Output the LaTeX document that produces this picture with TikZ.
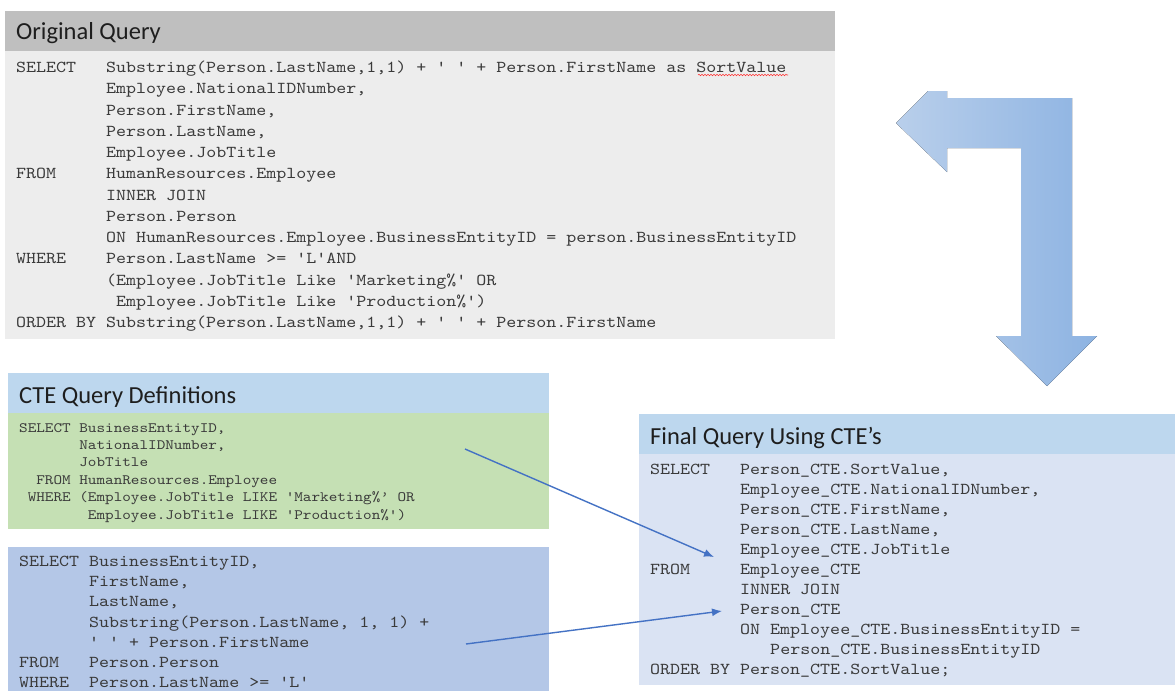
\documentclass[tikz,border=0pt]{standalone}
\usepackage{fontspec}
\setmainfont{Carlito}
% slab-serif typewriter face, widened to 0.6em per character
\setmonofont{lmmono10-regular.otf}[FakeStretch=1.143]
\usetikzlibrary{arrows.meta,decorations.pathmorphing}

\definecolor{headgray}{HTML}{BFBFBF}
\definecolor{bodygray}{HTML}{EDEDED}
\definecolor{headblue}{HTML}{BDD7EE}
\definecolor{cteGreen}{HTML}{C5E0B4}
\definecolor{cteBlue}{HTML}{B4C7E7}
\definecolor{finalBody}{HTML}{DAE3F3}
\definecolor{linkblue}{HTML}{4472C4}
\definecolor{bendL}{HTML}{B9CFEB}
\definecolor{bendR}{HTML}{8DB3E2}
\definecolor{codegray}{HTML}{3A3A3A}
\definecolor{titleink}{HTML}{1E1E1E}

% one node per code line: prefix, x, first baseline, line skip, style, lines
\newcommand\codelines[6]{%
  \foreach \ln [count=\k] in {#6}
    {\node[#5] (#1\k) at (#2, {#3 + (\k-1)*#4}) {\ln};}%
}

\begin{document}
\begin{tikzpicture}[x=1pt, y=-1pt,
  heading/.style={anchor=base west, inner sep=0pt, text=titleink,
    font=\fontsize{24.5}{29}\selectfont},
  codebig/.style={anchor=base west, inner sep=0pt, text=codegray,
    font=\fontsize{16.67}{20}\selectfont\ttfamily},
  codesmall/.style={anchor=base west, inner sep=0pt, text=codegray,
    font=\fontsize{14.33}{17}\selectfont\ttfamily},
  link/.style={draw=linkblue, line width=1.4pt,
    -{Latex[length=10pt,width=8pt]}},
  spell/.style={draw=red!80!white, line width=0.6pt,
    decorate, decoration={snake, amplitude=0.7pt, segment length=3pt}}]

\useasboundingbox (0,0) rectangle (1175,691);
\fill[white] (0,0) rectangle (1175,691);

% ---------- original query panel ----------
\fill[headgray] (5,11) rectangle (835,51);
\fill[bodygray] (5,51) rectangle (835,339);
\node[heading] (origTitle) at (16,39.5) {Original Query};
\codelines{orig}{16}{72.5}{21.25}{codebig}{%
  {SELECT~~~Substring(Person.LastName,1,1) + ' ' + Person.FirstName as SortValue},
  {~~~~~~~~~Employee.NationalIDNumber,},
  {~~~~~~~~~Person.FirstName,},
  {~~~~~~~~~Person.LastName,},
  {~~~~~~~~~Employee.JobTitle},
  {FROM~~~~~HumanResources.Employee},
  {~~~~~~~~~INNER JOIN},
  {~~~~~~~~~Person.Person},
  {~~~~~~~~~ON HumanResources.Employee.BusinessEntityID = person.BusinessEntityID},
  {WHERE~~~~Person.LastName >= 'L'AND},
  {~~~~~~~~~(Employee.JobTitle Like 'Marketing\%' OR},
  {~~~~~~~~~~Employee.JobTitle Like 'Production\%')},
  {ORDER BY Substring(Person.LastName,1,1) + ' ' + Person.FirstName}}
\draw[spell] (698,75) -- (788,75);

% ---------- bent arrow ----------
\fill[left color=bendL, right color=bendR]
  (896,123) -- (928,91) -- (947,91) -- (947,98) -- (1072,98) -- (1072,336)
  -- (1097,336) -- (1047,386) -- (996,336) -- (1021,336) -- (1021,148)
  -- (947,148) -- (947,172) -- cycle;

% ---------- CTE definitions ----------
\fill[headblue] (8,373) rectangle (549,413);
\node[heading] (cteTitle) at (19,403) {CTE Query Definitions};
\fill[cteGreen] (8,413) rectangle (549,529);
\codelines{emp}{19}{432}{17.4}{codesmall}{%
  {SELECT BusinessEntityID,},
  {~~~~~~~NationalIDNumber,},
  {~~~~~~~JobTitle},
  {~~FROM HumanResources.Employee},
  {~WHERE (Employee.JobTitle LIKE 'Marketing\%’ OR},
  {~~~~~~~~Employee.JobTitle LIKE 'Production\%')}}
\fill[cteBlue] (8,547) rectangle (549,691);
\codelines{per}{19}{566.5}{20.17}{codebig}{%
  {SELECT BusinessEntityID,},
  {~~~~~~~FirstName,},
  {~~~~~~~LastName,},
  {~~~~~~~Substring(Person.LastName, 1, 1) +},
  {~~~~~~~' ' + Person.FirstName},
  {FROM~~~Person.Person},
  {WHERE~~Person.LastName >= 'L'}}

% ---------- final query ----------
\fill[headblue] (639,414) rectangle (1175,454);
\node[heading] (finalTitle) at (650,444) {Final Query Using CTE’s};
\fill[finalBody] (639,454) rectangle (1175,685);
\codelines{fin}{650}{474.5}{20}{codebig}{%
  {SELECT~~~Person\_CTE.SortValue,},
  {~~~~~~~~~Employee\_CTE.NationalIDNumber,},
  {~~~~~~~~~Person\_CTE.FirstName,},
  {~~~~~~~~~Person\_CTE.LastName,},
  {~~~~~~~~~Employee\_CTE.JobTitle},
  {FROM~~~~~Employee\_CTE},
  {~~~~~~~~~INNER JOIN},
  {~~~~~~~~~Person\_CTE},
  {~~~~~~~~~ON Employee\_CTE.BusinessEntityID =},
  {~~~~~~~~~~~~Person\_CTE.BusinessEntityID},
  {ORDER BY Person\_CTE.SortValue;}}

% ---------- connectors from the CTEs into the final query ----------
\coordinate (empSrc) at (465,449);
\coordinate (empDst) at (714,557);
\coordinate (perSrc) at (466,644);
\coordinate (perDst) at (722,611);
\draw[link] (empSrc) -- (empDst);
\draw[link] (perSrc) -- (perDst);

\end{tikzpicture}
\end{document}
